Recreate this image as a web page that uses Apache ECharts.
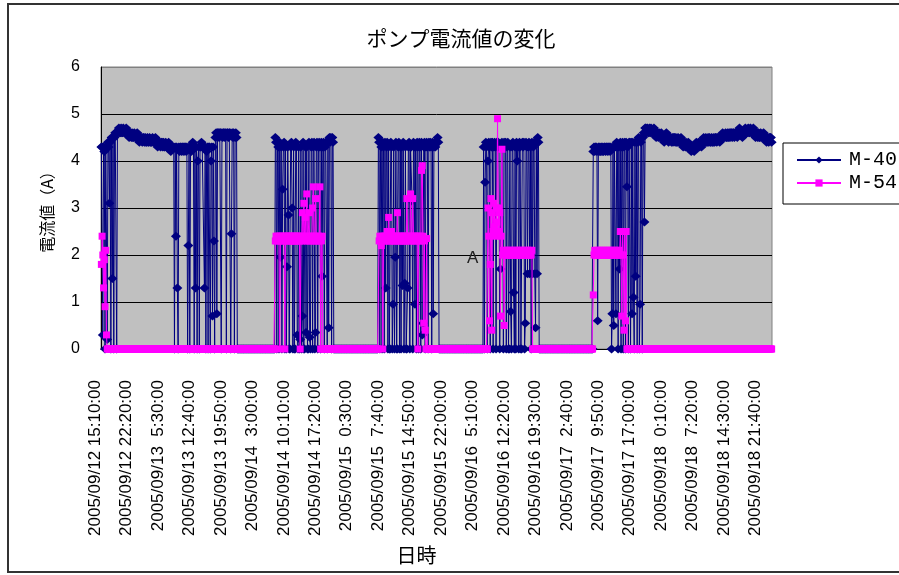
<!DOCTYPE html>
<html>
<head>
<meta charset="utf-8">
<title>ポンプ電流値の変化</title>
<script src="https://cdn.jsdelivr.net/npm/echarts@6/dist/echarts.min.js"></script>
<style>
  html, body { margin: 0; padding: 0; background: #ffffff; }
  #chart { width: 899px; height: 575px; }
</style>
</head>
<body>
<div id="chart"></div>
<script>
// Pump current log, one sample every 10 minutes starting 2005/09/12 15:10.
const sampleStart = Date.UTC(2005, 8, 12, 15, 10);
const sampleMinutes = 10;

// Axis labels shown under the chart (every 43rd sample).
const tickLabels = [
  '2005/09/12 15:10:00', '2005/09/12 22:20:00', '2005/09/13  5:30:00', '2005/09/13 12:40:00',
  '2005/09/13 19:50:00', '2005/09/14  3:00:00', '2005/09/14 10:10:00', '2005/09/14 17:20:00',
  '2005/09/15  0:30:00', '2005/09/15  7:40:00', '2005/09/15 14:50:00', '2005/09/15 22:00:00',
  '2005/09/16  5:10:00', '2005/09/16 12:20:00', '2005/09/16 19:30:00', '2005/09/17  2:40:00',
  '2005/09/17  9:50:00', '2005/09/17 17:00:00', '2005/09/18  0:10:00', '2005/09/18  7:20:00',
  '2005/09/18 14:30:00', '2005/09/18 21:40:00'
];

// Idle stretches: both pumps stopped.
const idle1 = [
  0,0,0,0,0,0,0,0,0,0,
  0,0,0,0,0,0,0,0,0,0,
  0,0,0,0,0,0,0,0,0,0,
  0,0,0,0,0,0,0,0,0,0,
  0,0,0,0,0,0,0,0,0,0,
  0
];
const idle2 = [
  0,0,0,0,0,0,0,0,0,0,
  0,0,0,0,0,0,0,0,0,0,
  0,0,0,0,0,0,0,0,0,0,
  0,0,0,0,0,0,0,0,0,0,
  0,0,0,0,0,0,0,0,0,0,
  0,0,0,0,0,0,0,0,0,0,
  0
];
const idle3 = [
  0,0,0,0,0,0,0,0,0,0,
  0,0,0,0,0,0,0,0,0,0,
  0,0,0,0,0,0,0,0,0,0,
  0,0,0,0,0,0,0,0,0,0,
  0,0,0,0,0,0,0,0,0,0,
  0,0,0,0,0,0,0,0,0,0,
  0
];
const idle4 = [
  0,0,0,0,0,0,0,0,0,0,
  0,0,0,0,0,0,0,0,0,0,
  0,0,0,0,0,0,0,0,0,0,
  0,0,0,0,0,0,0,0,0,0,
  0,0,0,0,0,0,0,0,0,0,
  0,0,0,0,0,0,0,0,0,0,
  0,0,0,0,0,0,0,0,0,0,
  0,0,0,0
];

// M-40 current (A) for each running stretch.
const m40Run1 = [
  4.3, 4.3, 0.3, 4.3, 4.2, 0, 4.3, 4.3, 0.2, 4.4,
  4.3, 3.1, 4.4, 0, 4.5, 1.5, 4.5, 0, 4.5, 4.6,
  4.6, 0, 4.6, 4.6, 4.7, 4.6, 4.6, 4.7, 4.6, 4.6,
  4.7, 4.6, 4.6, 4.6, 4.7, 4.6, 4.6, 4.6, 4.5, 4.6,
  4.6, 4.5, 4.6, 4.5, 4.5, 4.6, 4.5, 4.5, 4.5, 4.6,
  4.5, 4.5, 4.4, 4.5, 4.5, 4.5, 4.4, 4.5, 4.5, 4.4,
  4.5, 4.4, 4.4, 4.5, 4.4, 4.4, 4.5, 4.4, 4.4, 4.4,
  4.5, 4.4, 4.4, 4.4, 4.5, 4.4, 4.4, 4.3, 4.4, 4.4,
  4.4, 4.3, 4.4, 4.4, 4.3, 4.4, 4.3, 4.3, 4.4, 4.3,
  4.3, 4.3, 4.4, 4.3, 4.3, 4.2, 4.3, 4.3, 4.3, 4.3,
  0, 4.3, 2.4, 4.3, 1.3, 0, 4.3, 4.2, 4.3, 4.3,
  4.2, 4.3, 4.3, 4.2, 4.3, 4.3, 4.2, 4.3, 0, 2.2,
  4.3, 0, 4.3, 4.2, 4.3, 4.4, 4.3, 0, 4.3, 1.3,
  4.3, 0, 4.0, 4.3, 0, 4.3, 4.3, 4.4, 4.3, 4.3,
  4.3, 1.3, 4.3, 0, 4.2, 4.3, 0, 4.3, 4.3, 0,
  4.0, 4.3, 0.7, 4.3, 2.3, 0, 4.5, 4.6, 0.75, 4.6,
  4.6, 4.5, 4.6, 4.6, 0, 4.6, 4.5, 4.6, 4.6, 4.5,
  4.6, 0, 4.6, 4.6, 4.5, 4.6, 4.6, 0, 2.45, 4.6,
  4.5, 4.6, 0, 4.5, 4.6, 4.5, 0
];
const m40Run2 = [
  4.5, 4.4, 0, 4.4, 4.3, 0, 4.4, 1.95, 4.3, 0,
  3.4, 4.3, 4.4, 0, 4.3, 0, 1.75, 4.3, 2.85, 0,
  0, 4.3, 4.4, 3.0, 0, 4.3, 0, 0, 4.4, 4.3,
  0.3, 0, 4.3, 0, 0.2, 4.3, 0, 0.7, 4.4, 0,
  0, 4.3, 0.35, 4.3, 0, 0, 4.4, 0.25, 0, 4.3,
  4.4, 0, 4.3, 4.4, 0, 0.35, 4.3, 4.4, 0, 4.3,
  4.4, 4.3, 0, 4.4, 1.55, 4.3, 4.4, 0, 4.3, 4.4,
  4.4, 0, 4.4, 0.45, 4.5, 4.4, 4.5, 0, 4.5, 4.4
];
const m40Run3 = [
  4.5, 4.4, 0, 4.4, 4.3, 0, 4.4, 4.3, 0, 4.4,
  1.3, 4.3, 4.4, 0, 4.3, 0, 0, 4.4, 4.3, 0,
  0.95, 4.3, 0, 1.95, 4.4, 0, 0, 4.3, 4.4, 0,
  4.3, 0, 4.3, 1.35, 4.4, 0, 1.4, 4.3, 0, 0,
  1.3, 4.3, 4.4, 0, 4.3, 4.3, 3.15, 0, 4.4, 4.3,
  0.95, 4.3, 0, 4.4, 4.3, 0, 4.4, 4.3, 0, 4.4,
  0.3, 0.55, 4.3, 4.4, 0, 4.3, 4.4, 4.3, 0, 4.4,
  4.3, 4.4, 4.3, 0, 4.4, 0.75, 4.3, 4.4, 4.3, 4.4,
  4.4, 4.5, 4.4
];
const m40Run4 = [
  4.3, 0, 3.55, 4.4, 4.3, 0, 4.0, 4.4, 4.3, 0,
  4.4, 4.3, 4.4, 0, 4.3, 4.4, 4.3, 0, 4.4, 4.3,
  4.4, 4.3, 0, 1.7, 4.3, 4.4, 4.3, 0, 4.4, 4.3,
  4.4, 0, 4.3, 4.4, 0, 0, 4.3, 0.8, 0, 4.3,
  4.4, 1.2, 0, 4.3, 0, 4.4, 4.0, 4.3, 0, 4.4,
  4.3, 0, 0, 4.4, 4.3, 4.4, 0, 0.55, 4.4, 4.3,
  1.6, 4.3, 4.4, 1.6, 4.3, 0, 4.4, 1.6, 4.3, 4.4,
  1.6, 0.45, 4.4, 1.6, 4.5, 4.4
];
const m40Run5 = [
  4.2, 4.3, 4.2, 4.3, 4.3, 4.2, 0.6, 4.3, 4.2, 4.3,
  4.2, 4.3, 4.2, 4.3, 4.2, 4.3, 4.3, 4.2, 4.3, 4.3,
  4.2, 4.3, 4.3, 4.2, 4.3, 0, 0.75, 4.3, 0.5, 4.3,
  4.3, 0.75, 4.4, 4.3, 0, 4.3, 1.7, 4.4, 0, 4.3,
  4.4, 0, 4.3, 4.4, 0, 4.4, 3.45, 4.3, 0, 4.4,
  4.4, 0, 4.4, 0.75, 4.4, 1.1, 0, 4.4, 1.55, 4.4,
  0, 4.4, 4.5, 0, 0.95, 4.4, 4.5, 0, 4.5, 4.6,
  2.7, 4.7
];
const m40Run6 = [
  4.7, 4.6, 4.7, 4.6, 4.6, 4.7, 4.6, 4.7, 4.6, 4.6, 4.6, 4.7, 4.6, 4.6, 4.5, 4.6, 4.6, 4.5, 4.6, 4.5,
  4.5, 4.6, 4.5, 4.5, 4.5, 4.4, 4.5, 4.5, 4.6, 4.5, 4.5, 4.4, 4.5, 4.5, 4.5, 4.4, 4.5, 4.4, 4.5, 4.5,
  4.4, 4.5, 4.4, 4.4, 4.5, 4.4, 4.4, 4.4, 4.5, 4.4, 4.4, 4.3, 4.4, 4.4, 4.3, 4.4, 4.3, 4.3, 4.4, 4.3,
  4.3, 4.3, 4.2, 4.3, 4.3, 4.3, 4.2, 4.3, 4.3, 4.4, 4.3, 4.3, 4.4, 4.3, 4.4, 4.4, 4.3, 4.4, 4.4, 4.5,
  4.4, 4.4, 4.5, 4.4, 4.4, 4.5, 4.4, 4.5, 4.4, 4.4, 4.5, 4.4, 4.4, 4.5, 4.4, 4.5, 4.5, 4.4, 4.5, 4.5,
  4.5, 4.4, 4.5, 4.5, 4.5, 4.6, 4.5, 4.5, 4.5, 4.6, 4.5, 4.5, 4.6, 4.5, 4.6, 4.5, 4.6, 4.6, 4.5, 4.6,
  4.6, 4.5, 4.6, 4.6, 4.6, 4.5, 4.6, 4.6, 4.7, 4.6, 4.6, 4.6, 4.5, 4.6, 4.6, 4.6, 4.7, 4.6, 4.6, 4.6,
  4.7, 4.6, 4.6, 4.7, 4.6, 4.6, 4.6, 4.7, 4.6, 4.6, 4.5, 4.6, 4.6, 4.5, 4.6, 4.5, 4.5, 4.6, 4.5, 4.5,
  4.5, 4.6, 4.5, 4.5, 4.5, 4.4, 4.5, 4.5, 4.4, 4.5, 4.5, 4.5, 4.4
];

// M-54 current (A) over the same stretches.
const m54Run1 = [
  1.8, 2.4, 2.0, 1.3, 1.9, 0.9, 2.1, 0.3, 0, 0,
  0,0,0,0,0,0,0,0,0,0,
  0,0,0,0,0,0,0,0,0,0,
  0,0,0,0,0,0,0,0,0,0,
  0,0,0,0,0,0,0,0,0,0,
  0,0,0,0,0,0,0,0,0,0,
  0,0,0,0,0,0,0,0,0,0,
  0,0,0,0,0,0,0,0,0,0,
  0,0,0,0,0,0,0,0,0,0,
  0,0,0,0,0,0,0,0,0,0,
  0,0,0,0,0,0,0,0,0,0,
  0,0,0,0,0,0,0,0,0,0,
  0,0,0,0,0,0,0,0,0,0,
  0,0,0,0,0,0,0,0,0,0,
  0,0,0,0,0,0,0,0,0,0,
  0,0,0,0,0,0,0,0,0,0,
  0,0,0,0,0,0,0,0,0,0,
  0,0,0,0,0,0,0,0,0,0,
  0,0,0,0,0,0,0
];
const m54Run2 = [
  2.3, 2.4, 2.3, 2.4, 2.3, 2.4, 0, 2.4, 2.3, 2.3,
  2.4, 2.3, 2.4, 0, 2.4, 2.3, 2.4, 2.3, 2.4, 2.3,
  2.4, 2.3, 2.4, 2.3, 2.4, 2.3, 2.4, 2.3, 2.4, 2.3,
  2.4, 2.3, 2.4, 2.3, 0, 2.4, 2.3, 2.9, 2.4, 3.1,
  2.3, 2.8, 2.4, 3.3, 2.3, 2.4, 2.9, 2.3, 2.4, 2.3,
  2.4, 3.0, 3.45, 2.3, 2.4, 3.2, 2.3, 2.4, 2.3, 2.4,
  2.3, 3.45, 0, 2.3, 2.4, 0, 0, 0, 0, 0,
  0, 0, 0, 0, 0, 0, 0, 0, 0, 0
];
const m54Run3 = [
  0, 2.3, 2.4, 2.3, 2.2, 2.4, 0, 2.3, 2.4, 2.3,
  2.4, 2.3, 2.5, 2.4, 2.8, 2.3, 2.4, 2.3, 2.5, 2.4,
  2.3, 2.4, 2.3, 2.4, 2.3, 2.4, 2.9, 2.3, 2.4, 2.3,
  2.4, 2.3, 2.4, 2.3, 2.4, 2.3, 2.4, 2.3, 2.4, 3.2,
  2.3, 2.4, 2.3, 2.4, 3.3, 2.3, 2.4, 3.2, 2.4, 2.3,
  2.4, 2.3, 2.4, 2.3, 0, 2.4, 2.3, 2.4, 2.3, 3.8,
  3.9, 2.4, 0.55, 2.3, 0.4, 0, 2.35, 0, 0, 0,
  0,0,0,0,0,0,0,0,0,0,
  0,0,0
];
const m54Run4 = [
  0, 0, 0, 0, 0, 0, 3.0, 2.4, 0.6, 1.8,
  3.2, 0.4, 2.9, 2.5, 3.1, 2.6, 2.4, 3.0, 2.7, 4.9,
  3.0, 2.5, 2.9, 0.7, 2.4, 4.25, 2.0, 2.1, 0.5, 2.0,
  2.1, 2.0, 2.0, 2.1, 2.0, 2.0, 2.1, 2.0, 2.0, 2.1,
  2.0, 2.0, 2.1, 2.0, 2.0, 2.1, 2.0, 2.0, 2.1, 2.0,
  2.0, 2.1, 2.0, 2.0, 2.1, 2.0, 2.0, 2.1, 2.0, 2.0,
  2.1, 2.0, 2.0, 2.1, 2.0, 2.0, 2.1, 0, 0, 0,
  0, 0, 0, 0, 0, 0
];
const m54Run5 = [
  1.15, 2.0, 2.1, 2.0, 2.0, 2.1, 2.0, 2.0, 2.1, 2.0,
  2.0, 2.1, 2.0, 2.0, 2.1, 2.0, 2.0, 2.1, 2.0, 2.0,
  2.1, 2.0, 2.0, 2.1, 2.0, 2.0, 2.1, 2.0, 2.0, 2.1,
  2.0, 2.0, 2.1, 2.0, 2.0, 2.1, 2.0, 2.5, 2.0, 0.7,
  2.5, 2.0, 0.4, 2.5, 0.6, 2.5, 0, 0, 0, 0,
  0,0,0,0,0,0,0,0,0,0,
  0,0,0,0,0,0,0,0,0,0,
  0,0
];
const m54Run6 = [
  0,0,0,0,0,0,0,0,0,0,
  0,0,0,0,0,0,0,0,0,0,
  0,0,0,0,0,0,0,0,0,0,
  0,0,0,0,0,0,0,0,0,0,
  0,0,0,0,0,0,0,0,0,0,
  0,0,0,0,0,0,0,0,0,0,
  0,0,0,0,0,0,0,0,0,0,
  0,0,0,0,0,0,0,0,0,0,
  0,0,0,0,0,0,0,0,0,0,
  0,0,0,0,0,0,0,0,0,0,
  0,0,0,0,0,0,0,0,0,0,
  0,0,0,0,0,0,0,0,0,0,
  0,0,0,0,0,0,0,0,0,0,
  0,0,0,0,0,0,0,0,0,0,
  0,0,0,0,0,0,0,0,0,0,
  0,0,0,0,0,0,0,0,0,0,
  0,0,0,0,0,0,0,0,0,0,
  0,0,0
];

const m40 = [].concat(m40Run1, idle1, m40Run2, idle2, m40Run3, idle3, m40Run4, idle4, m40Run5, m40Run6);
const m54 = [].concat(m54Run1, idle1, m54Run2, idle2, m54Run3, idle3, m54Run4, idle4, m54Run5, m54Run6);

// Timestamp text for each sample, hour padded with a space like the log export.
function sampleLabel(i) {
  const d = new Date(sampleStart + i * sampleMinutes * 60000);
  const p2 = n => String(n).padStart(2, '0');
  const hh = String(d.getUTCHours()).padStart(2, ' ');
  return d.getUTCFullYear() + '/' + p2(d.getUTCMonth() + 1) + '/' + p2(d.getUTCDate()) +
    ' ' + hh + ':' + p2(d.getUTCMinutes()) + ':00';
}
const categories = m40.map((_, i) => sampleLabel(i));

const chart = echarts.init(document.getElementById('chart'), null, { renderer: 'canvas' });

chart.setOption({
  animation: false,
  backgroundColor: '#ffffff',
  title: {
    text: 'ポンプ電流値の変化',
    left: 456,
    top: 23,
    textAlign: 'center',
    textStyle: { fontFamily: 'Noto Sans CJK JP', fontSize: 21, fontWeight: 'normal', color: '#000' }
  },
  legend: {
    orient: 'vertical',
    left: 783,
    top: 143,
    data: ['M-40', 'M-54'],
    selectedMode: false,
    itemWidth: 44,
    itemHeight: 9,
    itemGap: 3,
    padding: [7, 40, 11, 13],
    borderColor: '#000',
    borderWidth: 1,
    textStyle: {
      fontFamily: 'Liberation Mono', fontSize: 20, color: '#000',
      padding: [0, 0, 0, 3]
    }
  },
  grid: {
    left: 101, top: 67, right: 127, bottom: 226,
    show: true,
    backgroundColor: '#c0c0c0',
    borderColor: '#808080',
    borderWidth: 1,
    containLabel: false,
    outerBoundsMode: 'none'
  },
  xAxis: {
    type: 'category',
    data: categories,
    boundaryGap: true,
    name: '日時',
    nameLocation: 'middle',
    nameGap: 196,
    nameTextStyle: { fontFamily: 'Noto Sans CJK JP', fontSize: 20, color: '#000', padding: [0, 40, 0, 0] },
    axisLine: { show: true, lineStyle: { color: '#000', width: 1 } },
    axisTick: { show: false },
    splitLine: { show: false },
    axisLabel: {
      interval: (index, value) => tickLabels.indexOf(value) >= 0,
      rotate: 90,
      margin: 31,
      fontFamily: 'Liberation Sans',
      fontSize: 17,
      color: '#000',
      verticalAlign: 'bottom',
      lineHeight: 12
    }
  },
  yAxis: {
    type: 'value',
    min: 0,
    max: 6,
    interval: 1,
    name: '電流値（A）',
    nameLocation: 'middle',
    nameGap: 46,
    nameRotate: 90,
    nameTextStyle: { fontFamily: 'Noto Sans CJK JP', fontSize: 16, color: '#000' },
    axisLine: { show: true, lineStyle: { color: '#000', width: 1 } },
    axisTick: { show: false },
    axisLabel: { margin: 21, fontFamily: 'Liberation Sans', fontSize: 16, color: '#000' },
    splitLine: {
      show: true,
      lineStyle: { color: ['#000', '#000', '#000', '#000', '#000', '#000', '#808080'], width: 1 }
    }
  },
  series: [
    {
      name: 'M-40',
      type: 'line',
      data: m40,
      symbol: 'diamond',
      symbolSize: [10, 9],
      showAllSymbol: true,
      lineStyle: { color: '#000080', width: 1 },
      itemStyle: { color: '#000080' },
      emphasis: { disabled: true },
      z: 2
    },
    {
      name: 'M-54',
      type: 'line',
      data: m54,
      symbol: 'rect',
      symbolSize: [7, 7],
      showAllSymbol: true,
      lineStyle: { color: '#ff00ff', width: 1 },
      itemStyle: { color: '#ff00ff' },
      emphasis: { disabled: true },
      z: 3
    }
  ],
  graphic: [
    {
      type: 'rect',
      z: -10,
      silent: true,
      shape: { x: 8, y: 4, width: 1000, height: 568 },
      style: { fill: null, stroke: '#333', lineWidth: 2 }
    },
    {
      type: 'text',
      left: 467,
      top: 250,
      z: 10,
      silent: true,
      style: { text: 'A', fontFamily: 'Liberation Sans', fontSize: 17, fill: '#222' }
    }
  ]
});
</script>
</body>
</html>
